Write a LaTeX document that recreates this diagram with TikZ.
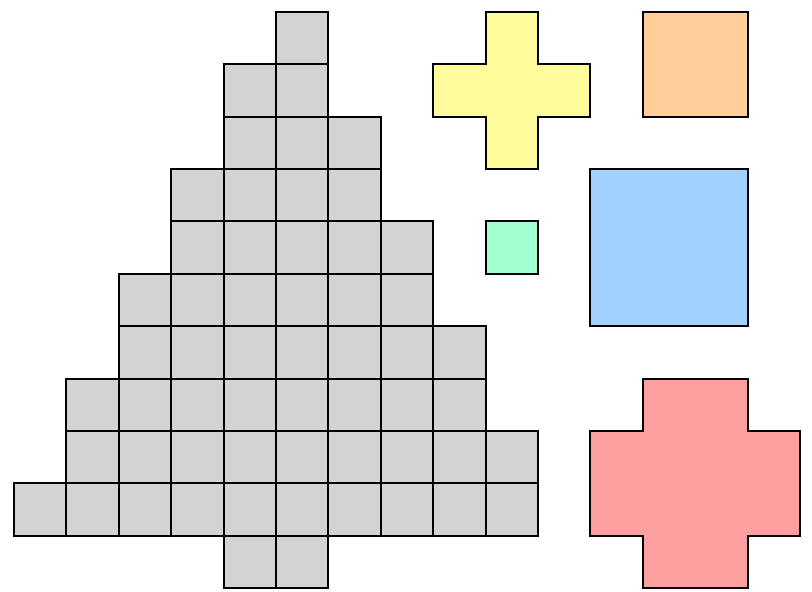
\documentclass[tikz,border=0pt]{standalone}
\begin{document}
\begin{tikzpicture}[x=1pt,y=-1pt,line width=2pt,line join=miter,
  cell/.style={draw=black,fill=cellgray},
  shp/.style={draw=black}]
\definecolor{cellgray}{RGB}{211,211,211}
\definecolor{cyel}{RGB}{255,252,155}
\definecolor{corg}{RGB}{255,206,155}
\definecolor{cblu}{RGB}{162,208,255}
\definecolor{cgrn}{RGB}{162,255,206}
\definecolor{cred}{RGB}{255,160,160}
\useasboundingbox (0,0) rectangle (812,592);
\def\u{52.4}
\def\xo{14}
\def\yo{11.7}
% gray triangle of cells
\foreach \r/\a/\b in {0/5/5,1/4/5,2/4/6,3/3/6,4/3/7,5/2/7,6/2/8,7/1/8,8/1/9,9/0/9,10/4/5}{
  \foreach \c in {\a,...,\b}{
    \draw[cell] ({\xo+\c*\u},{\yo+\r*\u}) rectangle ({\xo+(\c+1)*\u},{\yo+(\r+1)*\u});
  }
}
% yellow cross (cols 8-10, rows 0-2)
\draw[shp,fill=cyel] ({\xo+9*\u},{\yo}) -- ({\xo+10*\u},{\yo}) -- ({\xo+10*\u},{\yo+\u}) -- ({\xo+11*\u},{\yo+\u})
  -- ({\xo+11*\u},{\yo+2*\u}) -- ({\xo+10*\u},{\yo+2*\u}) -- ({\xo+10*\u},{\yo+3*\u}) -- ({\xo+9*\u},{\yo+3*\u})
  -- ({\xo+9*\u},{\yo+2*\u}) -- ({\xo+8*\u},{\yo+2*\u}) -- ({\xo+8*\u},{\yo+\u}) -- ({\xo+9*\u},{\yo+\u}) -- cycle;
% orange square
\draw[shp,fill=corg] ({\xo+12*\u},{\yo}) rectangle ({\xo+14*\u},{\yo+2*\u});
% blue square
\draw[shp,fill=cblu] ({\xo+11*\u},{\yo+3*\u}) rectangle ({\xo+14*\u},{\yo+6*\u});
% green square
\draw[shp,fill=cgrn] ({\xo+9*\u},{\yo+4*\u}) rectangle ({\xo+10*\u},{\yo+5*\u});
% red cross (cols 11-14, rows 7-10)
\draw[shp,fill=cred] ({\xo+12*\u},{\yo+7*\u}) -- ({\xo+14*\u},{\yo+7*\u}) -- ({\xo+14*\u},{\yo+8*\u}) -- ({\xo+15*\u},{\yo+8*\u})
  -- ({\xo+15*\u},{\yo+10*\u}) -- ({\xo+14*\u},{\yo+10*\u}) -- ({\xo+14*\u},{\yo+11*\u}) -- ({\xo+12*\u},{\yo+11*\u})
  -- ({\xo+12*\u},{\yo+10*\u}) -- ({\xo+11*\u},{\yo+10*\u}) -- ({\xo+11*\u},{\yo+8*\u}) -- ({\xo+12*\u},{\yo+8*\u}) -- cycle;
\end{tikzpicture}
\end{document}
